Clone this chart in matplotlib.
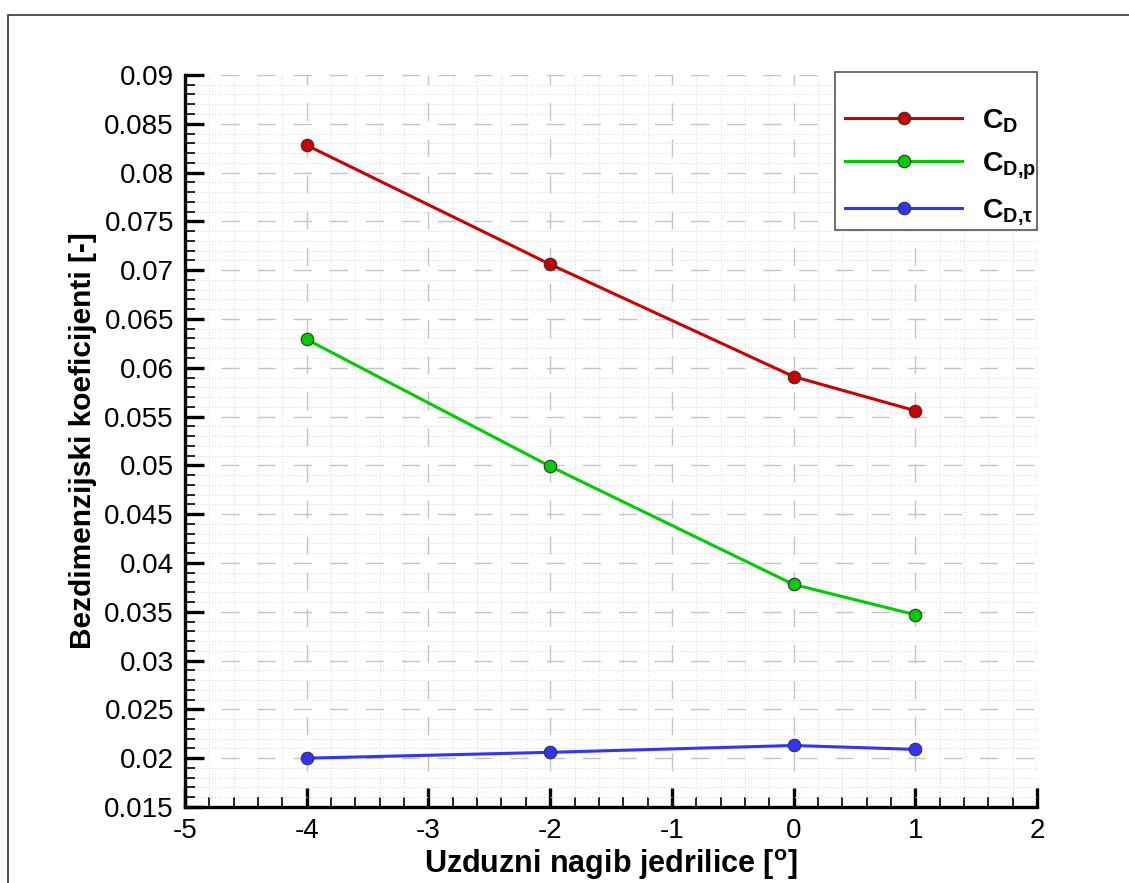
import matplotlib
matplotlib.use('Agg')
import matplotlib.pyplot as plt
from matplotlib.ticker import MultipleLocator, FormatStrFormatter
from matplotlib.patches import Rectangle

# --- podaci ---
nagib = [-4, -2, 0, 1]
cd = [0.0828, 0.0706, 0.0591, 0.0556]
cd_p = [0.0629, 0.0499, 0.0378, 0.0347]
cd_tau = [0.0200, 0.0206, 0.0213, 0.0209]

labels = [r'$\mathbf{C}_{\mathbf{D}}$', r'$\mathbf{C}_{\mathbf{D{,}p}}$', r'$\mathbf{C}_{\mathbf{D{,}}\tau}$']
colors = ['#cc0000', '#00cc00', '#3333ff']

plt.rcParams['font.family'] = ['Liberation Sans', 'DejaVu Sans']
plt.rcParams['mathtext.fontset'] = 'custom'
plt.rcParams['mathtext.rm'] = 'Liberation Sans'
plt.rcParams['mathtext.bf'] = 'Liberation Sans:bold'
plt.rcParams['mathtext.it'] = 'Liberation Sans:bold'

fig = plt.figure(figsize=(11.29, 8.83), dpi=100)
ax = fig.add_axes([0.1639, 0.0861, 0.7546, 0.829])

# okvir slike
fig.patches.append(Rectangle((0.0071, -0.1), 1.2, 0.1 + 0.983, transform=fig.transFigure,
                             fill=False, edgecolor='#333333', linewidth=1.2))

for y, lab, c in zip([cd, cd_p, cd_tau], labels, colors):
    ax.plot(nagib, y, color=c, linewidth=2.2, marker='o', markersize=9,
            markerfacecolor=c, markeredgecolor='#333333', markeredgewidth=0.8,
            label=lab, zorder=3)

ax.set_xlim(-5, 2)
ax.set_ylim(0.015, 0.09)
ax.xaxis.set_major_locator(MultipleLocator(1))
ax.xaxis.set_minor_locator(MultipleLocator(0.2))
ax.yaxis.set_major_locator(MultipleLocator(0.005))
ax.yaxis.set_minor_locator(MultipleLocator(0.001))
ax.yaxis.set_major_formatter(plt.FuncFormatter(lambda v, p: ('%.3f' % v).rstrip('0')))
ax.xaxis.set_major_formatter(FormatStrFormatter('%d'))

ax.grid(which='major', color='#c4c4c4', linestyle=(0, (13, 13)), linewidth=1.0)
ax.grid(which='minor', color='#dcdcdc', linestyle=':', linewidth=0.8)

ax.spines['top'].set_visible(False)
ax.spines['right'].set_visible(False)
ax.spines['left'].set_linewidth(2.4)
ax.spines['bottom'].set_linewidth(2.4)

ax.tick_params(which='major', direction='in', length=14, width=2.4, labelsize=20, pad=8)
ax.tick_params(which='minor', direction='in', length=7, width=1.2)

ax.set_xlabel(r'Uzduzni nagib jedrilice [$^{\mathbf{o}}$]', fontsize=22, fontweight='bold', labelpad=2)
ax.set_ylabel('Bezdimenzijski koeficijenti [-]', fontsize=21.5, fontweight='bold', labelpad=5)

# okvir legende crtamo posebno
ax.add_patch(Rectangle((0.763, 0.788), 0.237, 0.216, transform=ax.transAxes, clip_on=False,
                       facecolor='white', edgecolor='#555555', linewidth=1.2, zorder=4))
leg = ax.legend(loc='upper left', bbox_to_anchor=(0.775, 0.956), borderaxespad=0, borderpad=0,
                fontsize=20.5, handlelength=4.1, frameon=False,
                labelspacing=0.55, handletextpad=0.7)
leg.set_zorder(5)

fig.savefig('out.png', dpi=100)
